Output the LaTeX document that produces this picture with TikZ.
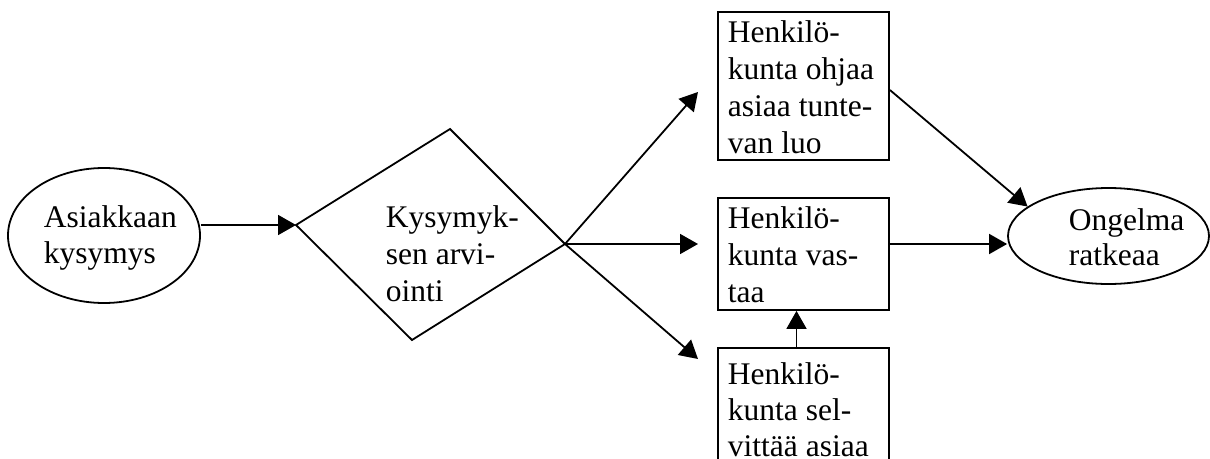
\documentclass[tikz,border=0pt]{standalone}
\usepackage{fontspec}
\setmainfont{Liberation Serif}
\usetikzlibrary{arrows.meta,shapes.geometric,calc}
% left-aligned block of lines whose reference point is the first baseline
\newcommand{\lns}[1]{\begin{tabular}[t]{@{}l@{}}#1\end{tabular}}
\begin{document}
\begin{tikzpicture}[x=1pt,y=-1pt,line width=1.8pt,
  shapebox/.style={draw,rectangle,minimum width=171pt,inner sep=0pt},
  oval/.style={draw,ellipse,inner sep=0pt},
  lbl/.style={anchor=base west,inner sep=0pt,font=\fontsize{31.5}{37}\selectfont},
  link/.style={-{Triangle[length=18pt,width=20pt]}}]
\useasboundingbox (0,0) rectangle (1210,458);
\clip (0,0) rectangle (1210,458);

% start and end ovals
\node[oval,minimum width=192pt,minimum height=135pt] (ask) at (104,235.5) {};
\node[oval,minimum width=201pt,minimum height=96pt] (solved) at (1108.5,236) {};

% decision shape
\coordinate (dl) at (296,225);
\coordinate (dt) at (450,129);
\coordinate (dr) at (565,244);
\coordinate (db) at (412,340);
\draw (dl) -- (dt) -- (dr) -- (db) -- cycle;

% action boxes
\node[shapebox,minimum height=148pt] (guide) at (803.5,86) {};
\node[shapebox,minimum height=112pt] (answer) at (803.5,254) {};
\node[shapebox,minimum height=148pt] (inquire) at (803.5,422) {};

% texts
\node[lbl,font=\fontsize{31.5}{36}\selectfont] (askT) at (43,227) {\lns{Asiakkaan\\kysymys}};
\node[lbl] (evalT) at (385,227) {\lns{Kysymyk-\\sen arvi-\\ointi}};
\node[lbl] (guideT) at (727,42) {\lns{Henkilö-\\kunta ohjaa\\asiaa tunte-\\van luo}};
\node[lbl] (answerT) at (727,228) {\lns{Henkilö-\\kunta vas-\\taa}};
\node[lbl,font=\fontsize{31.5}{36}\selectfont] (inquireT) at (727,384) {\lns{Henkilö-\\kunta sel-\\vittää asiaa}};
\node[lbl,font=\fontsize{31.5}{35}\selectfont] (solvedT) at (1068,230) {\lns{Ongelma\\ratkeaa}};

% arrow ends in front of the boxes
\coordinate (tipA) at (698,92);
\coordinate (tipB) at (698,244);
\coordinate (tipC) at (698,359);

% connectors
\draw[link] (ask.east |- dl) -- (dl);
\draw[link] (dr) -- (tipA);
\draw[link] (dr) -- (tipB);
\draw[link] (dr) -- (tipC);
\draw[link] ($(guide.east)+(0,4)$) -- (solved.160);
\draw[link] (answer.east |- dr) -- (solved.west |- dr);
\draw[link] ($(inquire.north)+(-7,0)$) -- ($(answer.south)+(-7,0)$);
\end{tikzpicture}
\end{document}
